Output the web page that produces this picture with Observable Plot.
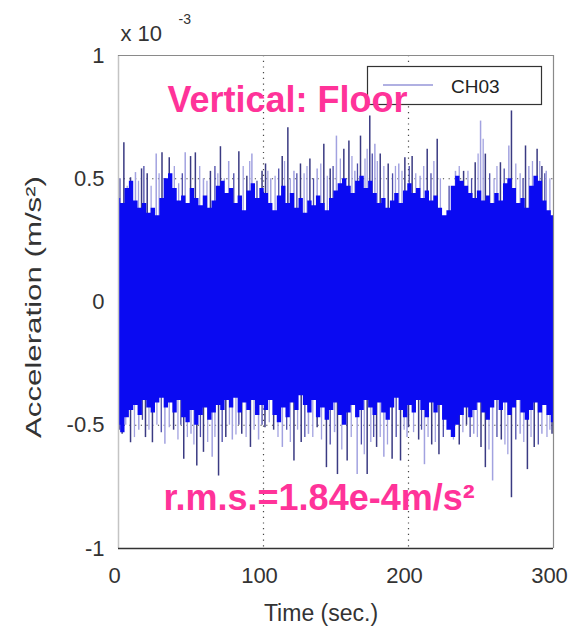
<!DOCTYPE html>
<html>
<head>
<meta charset="utf-8">
<script src="https://cdn.jsdelivr.net/npm/d3@7"></script>
<script src="https://cdn.jsdelivr.net/npm/@observablehq/plot@0.6"></script>
<style>
  html, body { margin: 0; padding: 0; background: #fff; }
</style>
</head>
<body>
<div id="chart"></div>
<script>
// ---- data (acceleration in units of 1e-3 m/s^2, time in s) ----
const xTicks = [0, 100, 200, 300];
const yTicks = [-1, -0.5, 0, 0.5, 1];
const coreStep = 3; // seconds between envelope samples

// upper edge of the dense core of the signal, t = 0, 3, ..., 300
const coreUpper = [
  0.42, 0.40, 0.46, 0.49, 0.41, 0.38, 0.40, 0.36, 0.38, 0.35, 0.42, 0.50, 0.52, 0.46, 0.41, 0.43, 0.40,
  0.46, 0.42, 0.39, 0.43, 0.38, 0.41, 0.47, 0.49, 0.44, 0.46, 0.40, 0.43, 0.37, 0.45, 0.48, 0.42, 0.46,
  0.44, 0.40, 0.37, 0.43, 0.47, 0.40, 0.44, 0.38, 0.42, 0.36, 0.41, 0.39, 0.43, 0.40, 0.37, 0.42, 0.45,
  0.48, 0.50, 0.47, 0.44, 0.49, 0.51, 0.46, 0.49, 0.44, 0.40, 0.42, 0.38, 0.41, 0.44, 0.40, 0.45,
  0.48, 0.44, 0.46, 0.42, 0.45, 0.41, 0.43, 0.38, 0.35, 0.37, 0.47, 0.51, 0.49, 0.47, 0.44, 0.42,
  0.45, 0.41, 0.43, 0.40, 0.44, 0.41, 0.48, 0.50, 0.46, 0.40, 0.42, 0.38, 0.47, 0.51, 0.49, 0.41, 0.37, 0.35
];
// lower edge of the dense core
const coreLower = [
  -0.50, -0.53, -0.47, -0.44, -0.42, -0.46, -0.40, -0.43, -0.45, -0.41, -0.39, -0.43, -0.41, -0.45, -0.40, -0.47, -0.49,
  -0.44, -0.50, -0.46, -0.43, -0.48, -0.45, -0.42, -0.44, -0.40, -0.43, -0.39, -0.45, -0.41, -0.44, -0.40, -0.46, -0.42,
  -0.44, -0.40, -0.46, -0.49, -0.43, -0.47, -0.41, -0.44, -0.38, -0.42, -0.45, -0.40, -0.47, -0.43, -0.48, -0.44, -0.41,
  -0.46, -0.50, -0.45, -0.42, -0.47, -0.44, -0.40, -0.43, -0.46, -0.41, -0.45, -0.48, -0.43, -0.39, -0.44, -0.47,
  -0.42, -0.45, -0.40, -0.44, -0.47, -0.41, -0.45, -0.42, -0.48, -0.52, -0.55, -0.50, -0.46, -0.43, -0.47, -0.44, -0.41,
  -0.45, -0.48, -0.43, -0.40, -0.44, -0.41, -0.46, -0.43, -0.40, -0.45, -0.48, -0.44, -0.41, -0.45, -0.42, -0.46, -0.49
];

// tallest peaks above the core
const upSpikeT = [3.7, 8.3, 11.7, 15.9, 19.8, 26, 30, 35, 46, 49.7, 53, 58.6, 63.4, 70.3, 76, 83, 88.5, 92, 99,
  101.4, 105, 112.9, 116.8, 121, 125.5, 132, 137, 141.6, 146, 150.3, 155.4, 158.9, 163, 166.9, 173.3, 176.8, 180.5, 186, 193.3, 197.5,
  202.5, 208, 212.9, 219.8, 232.4, 238, 246, 249.7, 253, 263.4, 269.2, 271, 280.7, 283, 288.7, 292, 295];
const upSpikeV = [0.646, 0.504, 0.525, 0.54, 0.52, 0.60, 0.605, 0.585, 0.605, 0.59, 0.605, 0.50, 0.53, 0.63, 0.57, 0.61, 0.51, 0.60, 0.53,
  0.56, 0.50, 0.59, 0.707, 0.53, 0.56, 0.58, 0.54, 0.64, 0.54, 0.673, 0.62, 0.653, 0.53, 0.673, 0.755, 0.64, 0.60, 0.56, 0.56, 0.585,
  0.59, 0.51, 0.62, 0.66, 0.53, 0.53, 0.565, 0.734, 0.60, 0.565, 0.633, 0.775, 0.633, 0.55, 0.62, 0.55, 0.53];

// deepest peaks below the core
const downSpikeT = [2.5, 8.3, 14, 18.6, 23.4, 32, 38, 45, 50, 54, 58.6, 64.6, 69, 74, 78.5, 85, 91, 96.6,
  101, 107, 113, 121, 126, 131, 137, 143.4, 149, 151, 157.7, 164.6, 171.5, 178, 183, 188.7, 194.5, 199,
  200, 207, 211, 216, 221, 228, 235, 240, 245, 250, 253, 258, 264, 271, 277, 282, 286.7, 292, 299];
const downSpikeV = [-0.537, -0.571, -0.52, -0.55, -0.571, -0.577, -0.52, -0.638, -0.537, -0.665, -0.61, -0.63, -0.706, -0.55, -0.56, -0.537, -0.59, -0.56,
  -0.51, -0.52, -0.59, -0.645, -0.57, -0.537, -0.51, -0.672, -0.53, -0.70, -0.645, -0.70, -0.70, -0.59, -0.63, -0.638, -0.645, -0.55,
  -0.51, -0.56, -0.66, -0.58, -0.62, -0.50, -0.58, -0.50, -0.537, -0.59, -0.672, -0.726, -0.56, -0.794, -0.537, -0.68, -0.59, -0.537, -0.537];

// smaller peaks just above the core
const minorUpT = [1, 6, 13.8, 17.5, 22.5, 28, 32.5, 38.5, 41.5, 44, 56, 61, 66.5, 68.5, 73, 79.5, 86, 90.5, 95.5,
  103, 108, 110.5, 114.5, 118.5, 123, 128, 130, 134.5, 139.5, 144, 148, 153, 161, 164.8, 170, 171.5, 175, 178.5, 183, 189, 191, 195.5,
  200.5, 205, 210.5, 215.5, 217.5, 222, 228, 235, 241, 243.5, 248, 251.5, 256, 259, 261, 266, 274, 277, 279, 285.5, 290.5, 294, 297.5];
const minorUpV = [0.50, 0.47, 0.49, 0.55, 0.47, 0.52, 0.50, 0.55, 0.48, 0.52, 0.55, 0.49, 0.55, 0.52, 0.50, 0.52, 0.55, 0.57, 0.49,
  0.53, 0.51, 0.54, 0.57, 0.50, 0.52, 0.52, 0.55, 0.50, 0.56, 0.51, 0.55, 0.58, 0.59, 0.56, 0.58, 0.62, 0.60, 0.57, 0.55, 0.52, 0.55, 0.53,
  0.55, 0.52, 0.55, 0.52, 0.57, 0.50, 0.47, 0.55, 0.53, 0.50, 0.60, 0.66, 0.52, 0.50, 0.55, 0.54, 0.56, 0.52, 0.50, 0.57, 0.57, 0.52, 0.50];

// smaller peaks just below the core
const minorDownT = [0.8, 5, 11, 16.5, 21, 26.5, 29.5, 35, 41, 43, 47.5, 52, 56.5, 61.5, 66.5, 71.5, 76.5, 81, 83, 88, 93.5, 99,
  104, 110, 116, 118.5, 123.5, 128.5, 134, 140, 146, 154, 160.5, 167.5, 169.5, 174, 176, 180.5, 185.5, 191.5, 197,
  203.5, 209, 213.5, 218.5, 224, 231, 237.5, 242.5, 247.5, 255.5, 261, 266.5, 268.5, 274, 279.5, 284.5, 289.5, 295.5, 297.5];
const minorDownV = [-0.52, -0.50, -0.55, -0.48, -0.52, -0.50, -0.53, -0.51, -0.56, -0.50, -0.55, -0.58, -0.55, -0.57, -0.55, -0.57, -0.50, -0.54, -0.50, -0.55, -0.52, -0.50,
  -0.49, -0.55, -0.52, -0.57, -0.52, -0.55, -0.55, -0.56, -0.58, -0.60, -0.55, -0.58, -0.62, -0.57, -0.55, -0.55, -0.58, -0.55, -0.52,
  -0.53, -0.52, -0.55, -0.57, -0.55, -0.56, -0.53, -0.55, -0.55, -0.60, -0.55, -0.58, -0.62, -0.56, -0.57, -0.55, -0.58, -0.55, -0.52];

const legendLabel = "CH03";
const titleText = "Vertical: Floor";
const rmsText = "r.m.s.=1.84e-4m/s²";
const xLabel = "Time (sec.)";
const yLabel = "Acceleration (m/s²)";

// ---- build tables ----
const core = coreUpper.map((hi, i) => ({t: i * coreStep, hi, lo: coreLower[i]}));
const toRows = (T, V) => T.map((t, i) => ({t, v: V[i]}));
const ups = toRows(upSpikeT, upSpikeV);
const downs = toRows(downSpikeT, downSpikeV);
const minorUps = toRows(minorUpT, minorUpV);
const minorDowns = toRows(minorDownT, minorDownV);

const blue = "#0a0af2";
const navy = "#3a3a82";
const lav = "#a2a2e0";
const pink = "#ff3399";
const majorColor = (d, i) => (i % 3 === 2 ? lav : navy);
const minorColor = (d, i) => (i % 3 === 0 ? "#4a4aa8" : lav);

const font = "'Liberation Sans', Arial, Helvetica, sans-serif";

const plot = Plot.plot({
  width: 570,
  height: 630,
  marginLeft: 118,
  marginRight: 17,
  marginTop: 55,
  marginBottom: 82,
  style: {fontFamily: font, fontSize: "22px", color: "#333", background: "#fff"},
  x: {domain: [xTicks[0], xTicks[xTicks.length - 1]], ticks: xTicks, tickSize: 0, tickPadding: 19, label: null},
  y: {domain: [yTicks[0], yTicks[yTicks.length - 1]], ticks: yTicks, tickSize: 0, tickPadding: 14, label: null,
      tickFormat: d => String(d)},
  marks: [
    Plot.gridX(xTicks.slice(1, -1), {stroke: "#333", strokeOpacity: 0.9, strokeWidth: 1.2, strokeDasharray: "1.2,4.5"}),
    Plot.gridY(yTicks.slice(1, -1), {stroke: "#333", strokeOpacity: 0.9, strokeWidth: 1.2, strokeDasharray: "1.2,4.5"}),
    Plot.ruleX(minorUps, {x: "t", y1: 0, y2: "v", stroke: minorColor, strokeWidth: 1.3}),
    Plot.ruleX(minorDowns, {x: "t", y1: 0, y2: "v", stroke: minorColor, strokeWidth: 1.3}),
    Plot.ruleX(ups, {x: "t", y1: 0, y2: "v", stroke: majorColor, strokeWidth: 1.5}),
    Plot.ruleX(downs, {x: "t", y1: 0, y2: "v", stroke: majorColor, strokeWidth: 1.5}),
    Plot.areaY(core, {x: "t", y1: "lo", y2: "hi", fill: blue, curve: "step"}),
    // axes box
    Plot.ruleX([xTicks[0]], {stroke: "#c4c4c4", strokeWidth: 1.5}),
    Plot.ruleX([xTicks[xTicks.length - 1]], {stroke: "#8a8a8a", strokeWidth: 1.2}),
    Plot.ruleY([yTicks[yTicks.length - 1]], {stroke: "#8a8a8a", strokeWidth: 1.2}),
    Plot.ruleY([yTicks[0]], {stroke: "#333", strokeWidth: 1.5}),
    // texts
    Plot.text([xLabel], {frameAnchor: "bottom", lineAnchor: "middle", dx: -15, dy: 65, fontSize: 23, fill: "#333"}),
    Plot.text([yLabel], {frameAnchor: "left", textAnchor: "middle", lineAnchor: "middle", dx: -85, dy: 5, rotate: -90, fontSize: 22, fill: "#333"}),
    Plot.text(["x 10"], {frameAnchor: "top-left", lineAnchor: "middle", textAnchor: "start", dx: 2, dy: -22, fontSize: 22, fill: "#333"}),
    Plot.text(["-3"], {frameAnchor: "top-left", lineAnchor: "middle", textAnchor: "start", dx: 60, dy: -36, fontSize: 14, fill: "#333"}),
    Plot.text([titleText], {frameAnchor: "top-left", lineAnchor: "middle", textAnchor: "start", dx: 49, dy: 45, fontSize: 36, fontWeight: "bold", fill: pink}),
    Plot.text([rmsText], {frameAnchor: "bottom-left", lineAnchor: "middle", textAnchor: "start", dx: 45, dy: -50, fontSize: 36, fontWeight: "bold", fill: pink})
  ]
});

const svg = d3.select(plot);
// x tick labels sit a little left of their ticks in the reference
svg.selectAll("g[aria-label='x-axis tick label'] text").attr("dx", -4);

// stretch the rotated y label along its length, as in the reference
svg.selectAll("text").filter(function() { return this.textContent === yLabel; })
  .attr("textLength", 262).attr("lengthAdjust", "spacingAndGlyphs");

// legend box (MATLAB style) in the upper right corner of the axes
const g = svg.append("g").attr("text-anchor", "start");
g.append("rect").attr("x", 367.5).attr("y", 66.5).attr("width", 174).attr("height", 38)
  .attr("fill", "#fff").attr("stroke", "#333").attr("stroke-width", 1.2);
g.append("line").attr("x1", 383).attr("x2", 433).attr("y1", 85).attr("y2", 85)
  .attr("stroke", "#b0b0e2").attr("stroke-width", 2);
g.append("text").attr("x", 451).attr("y", 92.5).attr("font-size", 19).attr("font-family", font)
  .attr("text-anchor", "start").attr("fill", "#222").text(legendLabel);
// title drawn above the legend so "Floor" overlaps it as in the reference
svg.selectAll("text").filter(function() { return this.textContent === titleText; }).each(function() {
  plot.appendChild(this.parentNode);
});

document.getElementById("chart").appendChild(plot);
</script>
</body>
</html>
